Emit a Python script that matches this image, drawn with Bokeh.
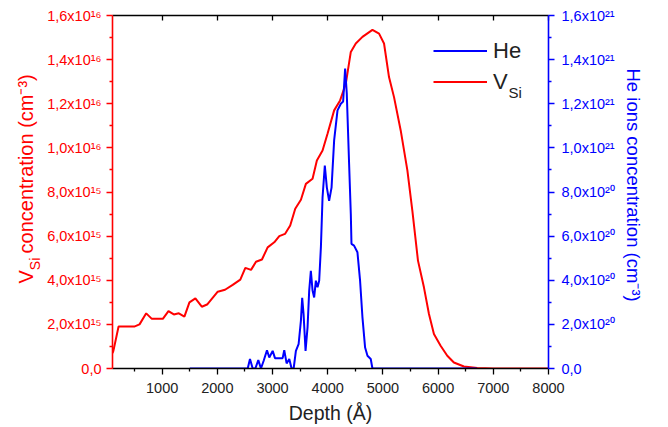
import math
from bokeh.plotting import figure
from bokeh.models import (Range1d, LinearAxis, FixedTicker, CustomJSTickFormatter,
                          Label, Legend, LegendItem)
from bokeh.embed import file_html
from bokeh.resources import INLINE

# ---------------- data ----------------
depth_vsi = [100, 116, 210, 494, 590, 711, 813, 1012, 1114, 1211, 1302, 1403, 1494, 1602,
             1718, 1814, 2007, 2139, 2278, 2416, 2507, 2610, 2700, 2808, 2911, 3031, 3122,
             3225, 3320, 3411, 3514, 3604, 3725, 3803, 3906, 3996, 4116, 4224, 4327, 4418,
             4508, 4629, 4810, 4930, 5020, 5110, 5201, 5322, 5443, 5533, 5635, 5743, 5834,
             5924, 6045, 6166, 6286, 6467, 6709, 7000, 8000]
vsi_e15 = [0.7, 0.8, 1.9, 1.9, 2.0, 2.5, 2.25, 2.25, 2.6, 2.45, 2.5, 2.35, 3.0, 3.18,
           2.8, 2.9, 3.48, 3.57, 3.79, 4.03, 4.56, 4.47, 4.84, 4.94, 5.49, 5.72, 6.0,
           6.1, 6.48, 7.24, 7.65, 8.37, 8.6, 9.43, 9.88, 10.64, 11.7, 12.15, 12.9, 14.35,
           14.73, 15.03, 15.35, 15.18, 14.73, 13.21, 12.3, 10.79, 8.98, 7.16, 4.89, 3.68, 2.47,
           1.56, 1.03, 0.58, 0.27, 0.09, 0.02, 0.0, 0.0]

depth_he = [1500, 2550, 2591, 2640, 2688, 2742, 2790, 2839, 2899, 2941, 3002, 3044, 3183,
            3212, 3255, 3303, 3345, 3382, 3423, 3472, 3514, 3537, 3562, 3598, 3634, 3664,
            3694, 3725, 3754, 3785, 3815, 3845, 3876, 3906, 3947, 3984, 4025, 4069, 4116,
            4177, 4237, 4279, 4315, 4345, 4387, 4418, 4430, 4477, 4538, 4586, 4629, 4677,
            4720, 4779, 4810, 6700]
he_e20 = [0, 0, 0.43, 0, 0, 0.38, 0, 0.35, 0.83, 0.5, 0.8, 0.47, 0.47,
          0.83, 0.23, 0.43, 0, 0, 0.8, 1.1, 2.17, 3.2, 2.47, 0.8, 1.86, 3.53,
          4.43, 3.53, 3.22, 3.98, 3.68, 3.98, 5.5, 7.76, 9.2, 8.2, 7.6, 8.2, 10.34,
          11.7, 12.0, 12.1, 13.6, 12.46, 9.28, 7.0, 5.65, 5.57, 5.27, 3.98, 2.32, 0.95,
          0.58, 0.43, 0, 0]

vsi = [v * 1e15 for v in vsi_e15]
he = [v * 1e20 for v in he_e20]

x_ticks = [1000, 2000, 3000, 4000, 5000, 6000, 7000, 8000]
x_minor = [500, 1500, 2500, 3500, 4500, 5500, 6500, 7500]
left_ticks = [0, 2e15, 4e15, 6e15, 8e15, 1e16, 1.2e16, 1.4e16, 1.6e16]
left_labels = ["0,0", "2,0x10¹⁵", "4,0x10¹⁵", "6,0x10¹⁵", "8,0x10¹⁵",
               "1,0x10¹⁶", "1,2x10¹⁶", "1,4x10¹⁶", "1,6x10¹⁶"]
right_ticks = [0, 2e20, 4e20, 6e20, 8e20, 1e21, 1.2e21, 1.4e21, 1.6e21]
right_labels = ["0,0", "2,0x10²⁰", "4,0x10²⁰", "6,0x10²⁰", "8,0x10²⁰",
                "1,0x10²¹", "1,2x10²¹", "1,4x10²¹", "1,6x10²¹"]

left_title_main = "V\u00a0\u00a0 concentration (cm⁻³)"
left_title_sub = "Si"
right_title = "He ions concentration (cm⁻³)"
x_title = "Depth (Å)"

# ---------------- layout ----------------
FONT = "Liberation Sans"
W, H = 668, 427
FL, FR, FT, FB = 112, 548, 15, 368
X0, X1 = 100, 8000
Y1 = 1.6e16
RED = "#ff0000"
BLUE = "#0000ff"
DARK = "#222222"


def fx(px):
    return X0 + (px - FL) / (FR - FL) * (X1 - X0)


def fy(py):
    return (FB - py) / (FB - FT) * Y1


p = figure(width=W, height=H, output_backend="svg", toolbar_location=None,
           x_range=Range1d(X0, X1), y_range=Range1d(0, Y1),
           x_axis_location=None, y_axis_location=None,
           min_border_left=FL, min_border_right=W - FR,
           min_border_top=FT, min_border_bottom=H - FB)
p.extra_y_ranges = {"he": Range1d(0, 1.6e21)}
p.grid.visible = False
p.outline_line_color = None
p.background_fill_color = "white"


def lookup_formatter(vals, labs):
    return CustomJSTickFormatter(args=dict(vals=vals, labs=labs), code="""
        for (let i = 0; i < vals.length; i++) {
            if (Math.abs(vals[i] - tick) <= 1e-6 * Math.max(1, Math.abs(vals[i]))) return labs[i];
        }
        return "";
    """)


def mids(t):
    return [(a + b) / 2 for a, b in zip(t[:-1], t[1:])]


def style_ticks(ax, col):
    ax.axis_line_color = col
    ax.axis_line_width = 1.6
    ax.major_tick_line_color = col
    ax.minor_tick_line_color = col
    ax.major_tick_in = 0
    ax.major_tick_out = 6
    ax.minor_tick_in = 0
    ax.minor_tick_out = 3
    ax.major_tick_line_width = 1.3
    ax.minor_tick_line_width = 1.3
    ax.major_label_text_font = FONT
    ax.major_label_text_font_size = "14.5px"


# bottom axis
xb = LinearAxis(ticker=FixedTicker(ticks=x_ticks, minor_ticks=x_minor), axis_label=x_title)
style_ticks(xb, "black")
xb.major_label_standoff = 8
xb.major_label_text_color = DARK
xb.axis_label_text_font = FONT
xb.axis_label_text_font_size = "19.5px"
xb.axis_label_text_font_style = "normal"
xb.axis_label_text_color = DARK
xb.axis_label_standoff = 6
p.add_layout(xb, "below")

# top axis (frame line with inward ticks)
xt = LinearAxis(ticker=FixedTicker(ticks=x_ticks, minor_ticks=[]),
                formatter=CustomJSTickFormatter(code='return "";'))
xt.axis_line_color = "black"
xt.axis_line_width = 1.6
xt.major_tick_in = 5
xt.major_tick_out = 0
xt.major_tick_line_width = 1.3
xt.minor_tick_line_color = None
xt.major_label_text_font_size = "0px"
xt.major_label_standoff = 0
p.add_layout(xt, "above")

# left axis
yl = LinearAxis(ticker=FixedTicker(ticks=left_ticks, minor_ticks=mids(left_ticks)),
                formatter=lookup_formatter(left_ticks, left_labels))
style_ticks(yl, RED)
yl.major_label_standoff = 5
yl.major_label_text_color = RED
p.add_layout(yl, "left")

# right axis
yr = LinearAxis(y_range_name="he",
                ticker=FixedTicker(ticks=right_ticks, minor_ticks=mids(right_ticks)),
                formatter=lookup_formatter(right_ticks, right_labels))
style_ticks(yr, BLUE)
yr.major_label_standoff = 7
yr.major_label_text_color = BLUE
p.add_layout(yr, "right")

# curves
r_vsi = p.line(depth_vsi, vsi, line_color=RED, line_width=2)
r_he = p.line(depth_he, he, y_range_name="he", line_color=BLUE, line_width=2)

# legend
leg = Legend(items=[LegendItem(label="He", renderers=[r_he]),
                    LegendItem(label="V", renderers=[r_vsi])],
             location=(321, 271), orientation="vertical",
             glyph_width=54, glyph_height=31, label_height=31, label_standoff=6,
             spacing=0, padding=0, margin=0,
             border_line_color=None, background_fill_alpha=0,
             label_text_font=FONT, label_text_font_size="22px", label_text_color=DARK)
p.add_layout(leg)


def add_text(txt, px, py, size, color, angle=0.0, place=None):
    lab = Label(x=fx(px), y=fy(py), text=txt, angle=angle, angle_units="rad",
                text_font=FONT, text_font_size=f"{size}px", text_color=color,
                text_align="left", text_baseline="alphabetic")
    if place is None:
        p.add_layout(lab)
    else:
        p.add_layout(lab, place)


# legend subscript
add_text("Si", 508, 91.5, 15, DARK)

# left title, reading bottom to top (side panel so it is not clipped to the frame)
up = math.pi / 2
add_text(left_title_main, 25.5, 283.0, 20, RED, up, "left")
add_text(left_title_sub, 34.0, 283.0 - 0.667 * 20, 14, RED, up, "left")

# right title, reading top to bottom
add_text(right_title, 633.0, 68.0, 18.5, BLUE, -math.pi / 2, "right")

open("out.html", "w").write(file_html(p, INLINE))
